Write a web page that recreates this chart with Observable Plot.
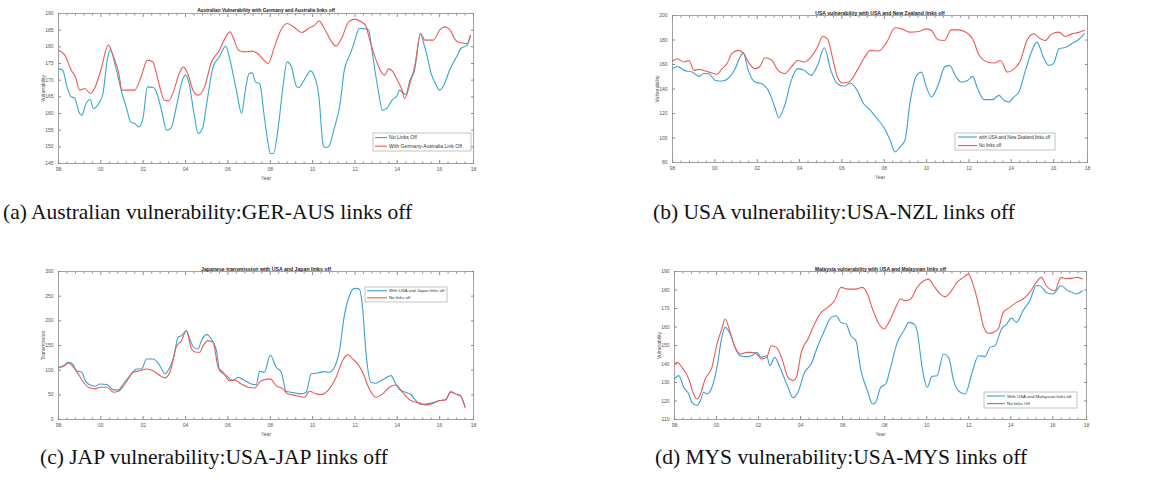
<!DOCTYPE html>
<html><head><meta charset="utf-8">
<script src="https://cdn.jsdelivr.net/npm/d3@7"></script>
<script src="https://cdn.jsdelivr.net/npm/@observablehq/plot@0.6"></script>
<style>
body{margin:0;background:#fff;}
#root{position:relative;width:1150px;height:487px;overflow:hidden;background:#fff;}
.panel{position:absolute;}
.cap{position:absolute;font-family:"Liberation Serif","Times New Roman",serif;font-size:21.5px;line-height:22px;color:#111;white-space:nowrap;z-index:2;}
</style></head><body><div id="root"></div>
<script>
// ---- shared x axis (years) ----
const xTicks = [1998, 2000, 2002, 2004, 2006, 2008, 2010, 2012, 2014, 2016, 2017.6];
const xTickLabels = ["98", "00", "02", "04", "06", "08", "10", "12", "14", "16", "18"];
const xDomain = [1998, 2017.6];
const xMinorTicks = [1998.4,1998.8,1999.2,1999.6,2000.4,2000.8,2001.2,2001.6,2002.4,2002.8,2003.2,2003.6,2004.4,2004.8,2005.2,2005.6,2006.4,2006.8,2007.2,2007.6,2008.4,2008.8,2009.2,2009.6,2010.4,2010.8,2011.2,2011.6,2012.4,2012.8,2013.2,2013.6,2014.4,2014.8,2015.2,2015.6,2016.4,2016.8,2017.2];

// ---- (a) Australia ----
const ausTitle = "Australian Vulnerability with Germany and Australia links off";
const ausYTicks = [145, 150, 155, 160, 165, 170, 175, 180, 185, 190];
const ausNoLinksOff = [[1998.0,173.4],[1998.2,173],[1998.4,168],[1998.6,165],[1998.75,164.7],[1999.0,160],[1999.1,159.5],[1999.3,163],[1999.5,164.2],[1999.65,161.5],[1999.9,163],[2000.1,166],[2000.3,176],[2000.45,179],[2000.7,174],[2001.0,166],[2001.2,162],[2001.4,157.5],[2001.6,157],[2001.8,156],[2002.0,159],[2002.2,168],[2002.5,167.7],[2002.65,166],[2002.9,160],[2003.1,155],[2003.3,155.5],[2003.6,163],[2003.85,170],[2004.0,171.5],[2004.15,169.5],[2004.4,160],[2004.6,154],[2004.8,155.5],[2005.0,163],[2005.3,174],[2005.6,177],[2005.9,180.2],[2006.1,176],[2006.4,167],[2006.65,160],[2006.8,166],[2007.0,172],[2007.15,172.2],[2007.3,169.5],[2007.5,169],[2007.7,160],[2007.9,151],[2008.0,148],[2008.15,148],[2008.4,157],[2008.6,168],[2008.8,175.5],[2009.0,174],[2009.25,168],[2009.35,167.8],[2009.6,170],[2009.9,172.8],[2010.1,171],[2010.3,165],[2010.5,150.5],[2010.6,149.8],[2010.75,150],[2011.0,155],[2011.3,163],[2011.5,173],[2011.75,177.5],[2011.9,180],[2012.0,182],[2012.2,185.5],[2012.5,185.4],[2012.65,185],[2012.8,179],[2013.1,167],[2013.3,161],[2013.5,161.5],[2013.75,164],[2014.0,165.5],[2014.1,167],[2014.25,166.3],[2014.4,165.7],[2014.6,170],[2014.8,172.5],[2015.1,184],[2015.25,181],[2015.4,177.5],[2015.6,172],[2015.8,169],[2016.0,167],[2016.2,168.5],[2016.5,173.5],[2016.8,177],[2017.0,179.5],[2017.3,180.5],[2017.45,183.2]];
const ausGerAusOff = [[1998.0,179],[1998.3,177.5],[1998.6,173],[1998.8,171],[1999.0,167],[1999.25,167.5],[1999.5,166],[1999.7,167.5],[2000.0,173],[2000.35,180.5],[2000.6,177],[2000.85,172],[2001.0,167],[2001.3,167],[2001.6,167],[2001.9,171],[2002.2,176],[2002.45,175.5],[2002.7,170],[2003.0,164],[2003.2,163.8],[2003.45,167],[2003.7,172],[2003.9,174],[2004.1,172],[2004.35,167],[2004.6,165.5],[2004.9,168],[2005.2,175],[2005.6,179],[2005.9,183],[2006.1,184.5],[2006.3,182],[2006.5,179],[2006.8,178.5],[2007.1,178.7],[2007.4,178],[2007.7,176],[2007.9,175],[2008.2,180],[2008.5,185],[2008.8,187],[2009.1,186],[2009.5,184.3],[2009.8,185.5],[2010.1,186.5],[2010.3,187.8],[2010.6,185],[2010.9,181.5],[2011.1,180.2],[2011.4,183],[2011.7,187.5],[2012.0,188.3],[2012.3,187.5],[2012.5,186.5],[2012.7,182],[2013.0,176],[2013.2,173],[2013.4,171.5],[2013.6,173.4],[2013.8,172.5],[2014.0,170],[2014.2,167.5],[2014.35,164.5],[2014.6,169],[2014.85,175],[2015.1,184],[2015.3,182],[2015.5,182],[2015.7,182],[2016.0,185],[2016.25,186],[2016.5,185],[2016.75,182],[2017.0,181.2],[2017.3,181],[2017.45,183.5]];

// ---- (b) USA ----
const usaTitle = "USA vulnerability with USA and New Zealand links off";
const usaYTicks = [80, 100, 120, 140, 160, 180, 200];
const usaNzlOff = [[1998.0,156.6],[1998.23,158.4],[1998.55,155.2],[1998.93,153.8],[1999.25,150.3],[1999.48,152.7],[1999.71,152.5],[2000.02,147],[2000.34,146.5],[2000.65,149],[2000.96,156.6],[2001.19,166],[2001.35,169.3],[2001.58,155.2],[2001.89,145.7],[2002.21,144.3],[2002.52,138.9],[2002.83,125.3],[2003.02,116.6],[2003.3,126.7],[2003.61,147],[2003.92,156.6],[2004.23,155.2],[2004.54,151.1],[2004.85,159.3],[2005.17,173.7],[2005.48,155.2],[2005.79,144.3],[2006.1,142.2],[2006.41,144.9],[2006.72,138.9],[2007.03,128],[2007.35,122.6],[2007.66,115.8],[2007.97,109],[2008.28,98.2],[2008.51,88.7],[2008.75,92.8],[2008.98,98.2],[2009.21,128],[2009.53,151.1],[2009.76,153.8],[2009.99,141.6],[2010.23,133.5],[2010.54,143],[2010.85,157.9],[2011.08,159.3],[2011.4,149.8],[2011.63,145.7],[2011.94,147],[2012.17,150.3],[2012.41,140.3],[2012.72,131.3],[2013.11,131.3],[2013.42,134.8],[2013.65,130.8],[2013.89,129.4],[2014.12,133.5],[2014.36,137.5],[2014.67,155.2],[2014.98,171.5],[2015.21,178.3],[2015.52,166],[2015.76,159.3],[2015.99,160.6],[2016.25,172.8],[2016.6,174.2],[2016.9,177.5],[2017.15,180],[2017.45,185]];
const usaNoOff = [[1998.0,162.8],[1998.23,164.7],[1998.55,162],[1998.78,163.3],[1999.01,155.2],[1999.25,156],[1999.56,154.7],[1999.87,153],[2000.1,152],[2000.34,156.6],[2000.57,160.6],[2000.8,168.8],[2001.12,171.5],[2001.35,169.3],[2001.58,162],[2001.89,156.6],[2002.13,158.4],[2002.36,165.5],[2002.67,163.9],[2002.98,155.2],[2003.3,152.5],[2003.61,157.9],[2003.92,163.3],[2004.23,162],[2004.54,166],[2004.85,174.2],[2005.09,182.9],[2005.32,181],[2005.55,166],[2005.79,149.8],[2006.02,144.9],[2006.33,145.7],[2006.72,155.2],[2007.03,164.7],[2007.35,171.5],[2007.74,171],[2008.12,178.3],[2008.51,190],[2008.83,189.1],[2009.21,186.4],[2009.68,187.2],[2009.99,189.1],[2010.23,187.8],[2010.54,180.2],[2010.85,179.6],[2011.16,188.3],[2011.47,188.3],[2011.86,186.4],[2012.17,181],[2012.49,167.4],[2012.88,162],[2013.19,161.2],[2013.5,163.3],[2013.81,153.8],[2014.04,155.2],[2014.43,163.3],[2014.74,179.6],[2015.06,185],[2015.37,181],[2015.6,179.6],[2015.91,185],[2016.25,186.4],[2016.55,182.9],[2016.85,185],[2017.15,186],[2017.45,188]];

// ---- (c) Japan ----
const jpnTitle = "Japanese transmission with USA and Japan links off";
const jpnYTicks = [0, 50, 100, 150, 200, 250, 300];
const jpnUsaJapOff = [[1998.0,105.9],[1998.24,109],[1998.47,116],[1998.63,114],[1998.86,99],[1999.1,95.8],[1999.26,78.9],[1999.41,72],[1999.73,67.4],[1999.96,72],[2000.28,70.8],[2000.59,60],[2000.83,60],[2001.06,72],[2001.38,89],[2001.69,102.5],[2001.92,102.5],[2002.16,122.7],[2002.47,122.7],[2002.79,109],[2003.02,92.4],[2003.26,105.9],[2003.42,122.7],[2003.65,166.6],[2003.81,170],[2004.04,180],[2004.2,163],[2004.36,147.7],[2004.59,143],[2004.75,159.8],[2004.99,172],[2005.22,163],[2005.46,139.6],[2005.61,99],[2005.93,89],[2006.24,78.9],[2006.48,85.6],[2006.79,78.9],[2007.11,72],[2007.34,70.8],[2007.5,97.8],[2007.73,95.8],[2008.0,130.8],[2008.28,105.9],[2008.52,95.8],[2008.75,57.3],[2009.07,54.6],[2009.46,52],[2009.7,55.3],[2009.93,92.4],[2010.24,94.4],[2010.56,97],[2010.79,95.8],[2011.03,105.9],[2011.27,139.6],[2011.5,210.4],[2011.74,250.8],[2011.97,265.7],[2012.21,264.3],[2012.36,227],[2012.52,136],[2012.76,75.5],[2012.99,73.5],[2013.23,78.9],[2013.46,84.3],[2013.7,89],[2013.93,72],[2014.17,58.7],[2014.4,55.3],[2014.64,50.6],[2014.88,38.4],[2015.11,30.3],[2015.43,31.7],[2015.74,35],[2016.01,38.4],[2016.29,40.5],[2016.52,56.6],[2016.76,51.9],[2016.99,48.6],[2017.2,25]];
const jpnNoOff = [[1998.0,104.5],[1998.24,107.9],[1998.47,114.6],[1998.86,97.1],[1999.18,75.5],[1999.41,65.4],[1999.73,62],[1999.96,65.4],[2000.28,65.4],[2000.59,55.3],[2000.83,57.3],[2001.14,72],[2001.53,95.8],[2001.85,99],[2002.16,102.5],[2002.47,99],[2002.79,89],[2003.02,84.3],[2003.26,95.8],[2003.57,147.7],[2003.81,159.8],[2004.04,180],[2004.28,143],[2004.51,136.2],[2004.67,136.2],[2004.83,149.7],[2005.06,159.8],[2005.3,156.4],[2005.54,105.9],[2005.77,95.8],[2006.08,78.9],[2006.32,80.2],[2006.63,72],[2006.95,65.4],[2007.26,64],[2007.58,78.9],[2008.0,82.3],[2008.28,68.8],[2008.6,62],[2008.83,52],[2009.22,48.6],[2009.62,45.2],[2009.85,57.3],[2010.17,51.9],[2010.4,50.6],[2010.79,62],[2011.11,85.6],[2011.42,119.4],[2011.66,131.5],[2011.89,122.7],[2012.13,112.6],[2012.36,95.8],[2012.68,62],[2012.99,45.2],[2013.31,51.9],[2013.62,65.4],[2013.93,70],[2014.25,55.3],[2014.64,38.4],[2015.03,33.7],[2015.35,29.7],[2015.62,31.7],[2016.01,38.4],[2016.29,39.8],[2016.52,55.3],[2016.83,50.6],[2016.99,47.2],[2017.2,25]];

// ---- (d) Malaysia ----
const mysTitle = "Malaysia vulnerability with USA and Malaysian links off";
const mysYTicks = [110, 120, 130, 140, 150, 160, 170, 180, 190];
const mysUsaMysOff = [[1998.0,131.9],[1998.2,133.7],[1998.44,127.4],[1998.68,123.8],[1998.83,119.3],[1999.07,117.6],[1999.23,120.2],[1999.39,124.7],[1999.54,123.8],[1999.78,127.4],[2000.02,138.2],[2000.25,154.4],[2000.41,159.8],[2000.65,156.2],[2000.88,149],[2001.12,144.5],[2001.43,144],[2001.67,144.5],[2001.91,146.3],[2002.14,143.6],[2002.38,144.5],[2002.54,139.1],[2002.77,143.6],[2003.01,138.2],[2003.4,127.4],[2003.64,121.7],[2003.87,124.7],[2004.19,135.5],[2004.5,140],[2004.82,149.9],[2005.13,158],[2005.45,165.2],[2005.69,166.1],[2005.92,162.5],[2006.16,161.6],[2006.39,155.3],[2006.63,152.6],[2006.87,136.4],[2007.18,125.6],[2007.42,118.4],[2007.57,119.3],[2007.81,127.4],[2008.05,129.2],[2008.28,138.2],[2008.6,151.7],[2008.91,158],[2009.15,162.5],[2009.39,161.6],[2009.54,158],[2009.78,138.2],[2010.02,127.4],[2010.25,133.3],[2010.49,133.7],[2010.8,145.4],[2011.04,143.6],[2011.28,131],[2011.59,124.7],[2011.83,123.8],[2012.14,134.6],[2012.46,144.5],[2012.77,144],[2013.01,149],[2013.24,149.9],[2013.56,158.9],[2013.8,161.6],[2014.03,164.8],[2014.27,162.5],[2014.58,168.8],[2014.9,174.2],[2015.21,182.3],[2015.37,182.3],[2015.69,178.7],[2016.0,177.8],[2016.39,182.3],[2016.71,179.6],[2016.94,178.7],[2017.1,177.8],[2017.4,179.6]];
const mysNoOff = [[1998.0,140],[1998.13,140.9],[1998.36,138.2],[1998.68,131.9],[1998.91,123.8],[1999.07,121.1],[1999.23,123.8],[1999.46,131.9],[1999.78,138.2],[2000.02,150.8],[2000.25,158.9],[2000.41,164.3],[2000.65,157.1],[2000.88,149],[2001.12,145.4],[2001.43,146.3],[2001.67,146.3],[2001.91,145.4],[2002.14,142.7],[2002.38,143.6],[2002.61,149.9],[2002.85,149],[2003.09,143.6],[2003.4,132.8],[2003.64,131],[2003.8,132.8],[2004.03,146.3],[2004.35,153.5],[2004.66,161.6],[2004.98,167.9],[2005.29,170.6],[2005.61,174.2],[2005.92,181.4],[2006.24,180.5],[2006.63,180.5],[2006.94,181.4],[2007.18,177.8],[2007.42,169.7],[2007.73,161.6],[2007.97,158.9],[2008.2,162.5],[2008.52,170.6],[2008.76,175.1],[2008.99,174.2],[2009.23,175.1],[2009.54,181.4],[2009.86,185],[2010.09,185.9],[2010.33,182.3],[2010.65,177.8],[2010.88,176.3],[2011.12,178.7],[2011.43,184.1],[2011.75,186.8],[2011.98,188.6],[2012.22,182.3],[2012.46,172.4],[2012.69,160.7],[2012.93,156.6],[2013.17,157.1],[2013.4,158.9],[2013.64,167.9],[2013.95,170.6],[2014.27,173.3],[2014.58,175.1],[2014.9,178.7],[2015.21,184.1],[2015.45,186.8],[2015.69,182.3],[2016.09,179.6],[2016.39,186.8],[2016.63,186.2],[2016.94,186.4],[2017.18,186.8],[2017.4,185.9]];

const captions = ["(a) Australian vulnerability:GER-AUS links off", "(b) USA vulnerability:USA-NZL links off", "(c) JAP vulnerability:USA-JAP links off", "(d) MYS vulnerability:USA-MYS links off"];

const BLUE = "#3a9fd6", TEAL = "#37a9c4", RED = "#ec5a55";

const panels = [
  {left:0, top:0, w:500, h:192, frame:[58,13,473,163], title:ausTitle, titleSize:4.8, yDomain:[145,190], yTicks:ausYTicks, yLabel:"Vulnerability",
   series:[{name:"No Links Off", data:ausNoLinksOff, color:TEAL},{name:"With Germany-Australia Link Off", data:ausGerAusOff, color:RED}],
   legend:{box:[373,133,471,151], rows:[137.6,146.2], line:[375,387], text:389, size:5.1}},
  {left:575, top:0, w:575, h:192, frame:[672,15,1087,162], title:usaTitle, titleSize:5.1, yDomain:[80,200], yTicks:usaYTicks, yLabel:"Vulnerability",
   series:[{name:"with USA and New Zealand links off", data:usaNzlOff, color:BLUE},{name:"No links off", data:usaNoOff, color:RED}],
   legend:{box:[955,133,1055,150], rows:[137,145.6], line:[958,977], text:979, size:4.5}},
  {left:0, top:245, w:500, h:195, frame:[58,271,473,419], title:jpnTitle, titleSize:5.2, yDomain:[0,300], yTicks:jpnYTicks, yLabel:"Transmission",
   series:[{name:"With USA and Japan links off", data:jpnUsaJapOff, color:BLUE},{name:"No links off", data:jpnNoOff, color:RED}],
   legend:{box:[365,287,447,302], rows:[290.8,297.8], line:[367,387], text:389, size:4.3}},
  {left:575, top:245, w:575, h:195, frame:[674,271,1086,419], title:mysTitle, titleSize:5.0, yDomain:[110,190], yTicks:mysYTicks, yLabel:"Vulnerability",
   series:[{name:"With USA and Malaysian links off", data:mysUsaMysOff, color:BLUE},{name:"No links Off", data:mysNoOff, color:RED}],
   legend:{box:[984,392,1077,408], rows:[396,403.6], line:[987,1005], text:1007, size:4.4}}
];

const root = document.getElementById("root");
const AX = "#8c8c8c";

panels.forEach(p => {
  const mL = p.frame[0]-p.left, mT = p.frame[1]-p.top, mR = p.left+p.w-p.frame[2], mB = p.top+p.h-p.frame[3];
  const chart = Plot.plot({
    width:p.w, height:p.h, marginLeft:mL, marginTop:mT, marginRight:mR, marginBottom:mB,
    style:{fontFamily:'"Liberation Sans", Arial, sans-serif', fontSize:"5px", color:"#555", background:"transparent", overflow:"visible"},
    x:{domain:xDomain},
    y:{domain:p.yDomain},
    marks:[
      Plot.frame({stroke:AX, strokeWidth:0.8}),
      Plot.axisX({ticks:xTicks, tickFormat:d => xTickLabels[xTicks.indexOf(d)], tickSize:0, tickPadding:3.5, fill:"#555", label:"Year", labelAnchor:"center", labelArrow:"none", labelOffset:16}),
      Plot.axisX({ticks:xTicks, tickSize:-3, tickFormat:() => "", stroke:AX, label:null}),
      Plot.axisX({ticks:xMinorTicks, tickSize:-1.5, tickFormat:() => "", stroke:AX, label:null}),
      Plot.axisX({anchor:"top", ticks:xTicks, tickSize:-3, tickFormat:() => "", stroke:AX, label:null}),
      Plot.axisX({anchor:"top", ticks:xMinorTicks, tickSize:-1.5, tickFormat:() => "", stroke:AX, label:null}),
      Plot.axisY({ticks:p.yTicks, tickSize:0, tickPadding:5, fill:"#555", label:p.yLabel, labelAnchor:"center", labelArrow:"none", labelOffset:17}),
      Plot.axisY({ticks:p.yTicks, tickSize:-3, tickFormat:() => "", stroke:AX, label:null}),
      Plot.axisY({anchor:"right", ticks:p.yTicks, tickSize:-3, tickFormat:() => "", stroke:AX, label:null}),
      ...p.series.map(s => Plot.line(s.data, {x:d => d[0], y:d => d[1], stroke:s.color, strokeWidth:1.1, curve:"monotone-x"})),
      Plot.text([p.title], {frameAnchor:"top", dy:-4.5, fontWeight:"bold", fontSize:p.titleSize, fill:"#222"})
    ]
  });
  chart.classList.add("panel");
  chart.style.left = p.left + "px";
  chart.style.top = p.top + "px";
  // legend box
  const svg = d3.select(chart);
  const L = p.legend, ox = p.left, oy = p.top;
  const g = svg.append("g").attr("text-anchor", "start");
  g.append("rect").attr("x", L.box[0]-ox).attr("y", L.box[1]-oy).attr("width", L.box[2]-L.box[0]).attr("height", L.box[3]-L.box[1])
    .attr("fill", "#fff").attr("stroke", "#9a9a9a").attr("stroke-width", 0.6);
  p.series.forEach((s, i) => {
    g.append("line").attr("x1", L.line[0]-ox).attr("x2", L.line[1]-ox).attr("y1", L.rows[i]-oy).attr("y2", L.rows[i]-oy)
      .attr("stroke", s.color).attr("stroke-width", 1.1);
    g.append("text").attr("x", L.text-ox).attr("y", L.rows[i]-oy).attr("dy", "0.35em").attr("font-size", L.size)
      .attr("text-anchor", "start").attr("fill", "#333").attr("font-family", '"Liberation Sans", Arial, sans-serif').text(s.name);
  });
  root.appendChild(chart);
});

const capPos = [[3,201],[653,201],[40,446],[655,446]];
captions.forEach((c, i) => {
  const d = document.createElement("div");
  d.className = "cap";
  d.style.left = capPos[i][0] + "px";
  d.style.top = capPos[i][1] + "px";
  d.textContent = c;
  root.appendChild(d);
});
</script>
</body></html>
